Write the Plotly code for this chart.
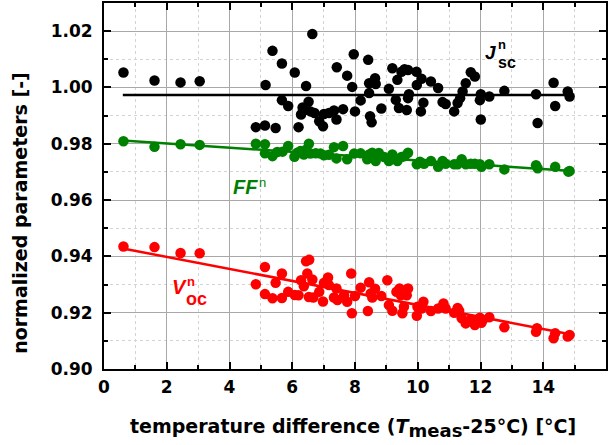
import plotly.graph_objects as go

# ---- data ----
jsc_x = [0.62, 1.61, 2.44, 3.05, 4.84, 5.13, 5.47, 5.15, 5.37, 5.67, 5.67, 5.87, 6.08, 6.20, 6.44, 6.64,
         6.52, 6.33, 6.28, 6.45, 6.58, 6.71, 6.86, 6.98, 7.01, 7.17, 7.33, 7.41, 7.42, 7.62, 7.75,
         7.91, 7.96, 8.00, 8.18, 8.42, 8.45, 8.45, 8.48, 8.53, 8.64, 8.66, 8.84, 9.08, 9.19, 9.30,
         9.35, 9.40, 9.48, 9.58, 9.65, 9.69, 9.72, 9.69, 9.96, 9.97, 10.10, 10.12, 10.18, 10.42,
         10.65, 10.79, 10.89, 11.16, 11.27, 11.35, 11.43, 11.53, 11.69, 11.82, 11.98, 12.01, 12.01,
         12.28, 12.76, 13.77, 13.82, 14.33, 14.38, 14.78, 14.84]
jsc_y = [1.0053, 1.0025, 1.0018, 1.0022, 0.9859, 0.9865, 0.9856, 1.0009, 1.0130, 1.0085, 0.9955, 0.9934,
         1.0053, 0.9859, 1.0005, 1.0190, 0.9949, 0.9929, 0.9904, 0.9921, 0.9915, 0.9909, 0.9880,
         0.9862, 0.9906, 0.9909, 0.9918, 0.9886, 1.0072, 0.9923, 1.0042,
         1.0002, 1.0118, 0.9915, 0.9954, 1.0098, 1.0015, 0.9980, 0.9898, 0.9876, 1.0033, 1.0012,
         0.9925, 0.9995, 1.0068, 0.9956, 1.0027, 0.9927, 1.0056, 1.0065, 0.9920, 1.0062, 0.9976,
         0.9962, 1.0056, 1.0009, 0.9915, 1.0031, 0.9946, 1.0021, 0.9998, 0.9948, 0.9941, 0.9915,
         0.9945, 0.9962, 0.9986, 1.0015, 1.0054, 1.0039, 0.9955, 0.9976, 0.9886, 0.9968, 0.9988,
         0.9976, 0.9874, 1.0017, 0.9934, 0.9986, 0.9968]

ff_x = [0.62, 1.61, 2.44, 3.05, 4.84, 5.13, 5.13, 5.37, 5.52, 5.69, 5.87, 6.07, 6.16, 6.26, 6.37, 6.45,
        6.53, 6.58, 6.75, 6.90, 7.01, 7.17, 7.33, 7.41, 7.62, 7.75,
        7.97, 8.18, 8.39, 8.45, 8.55, 8.66, 8.76, 8.93, 9.08, 9.19, 9.35, 9.48, 9.58, 9.69, 9.97,
        10.07, 10.20, 10.42, 10.65, 10.79, 10.89, 11.16, 11.27, 11.40, 11.53, 11.69, 11.82, 11.98,
        12.03, 12.28, 12.76, 13.77, 13.82, 14.38, 14.80, 14.84]
ff_y = [0.9809, 0.9789, 0.9798, 0.9796, 0.9800, 0.9798, 0.9766, 0.9756, 0.9771, 0.9772, 0.9792, 0.9754,
        0.9768, 0.9774, 0.9762, 0.9780, 0.9800, 0.9765, 0.9766, 0.9765, 0.9759, 0.9761, 0.9788,
        0.9748, 0.9792, 0.9745,
        0.9765, 0.9766, 0.9745, 0.9762, 0.9768, 0.9739, 0.9767, 0.9753, 0.9739, 0.9762, 0.9739,
        0.9753, 0.9756, 0.9768, 0.9727, 0.9736, 0.9729, 0.9739, 0.9718, 0.9739, 0.9729, 0.9727,
        0.9727, 0.9745, 0.9727, 0.9729, 0.9729, 0.9727, 0.9718, 0.9727, 0.9709, 0.9724, 0.9713,
        0.9718, 0.9701, 0.9703]

voc_x = [0.62, 1.61, 2.44, 3.05, 4.84, 5.13, 5.13, 5.37, 5.47, 5.67, 5.67, 5.87, 6.08, 6.20, 6.28, 6.37,
         6.44, 6.54, 6.48, 6.53, 6.64, 6.67, 6.86, 6.98, 7.01, 7.14, 7.17, 7.41, 7.44, 7.33, 7.65,
         7.75, 7.88, 7.90,
         8.00, 8.18, 8.41, 8.45, 8.50, 8.55, 8.64, 8.84, 9.03, 9.08, 9.19, 9.32, 9.42, 9.46, 9.51,
         9.62, 9.69, 9.65, 9.56, 9.97, 9.99, 10.18, 10.12, 10.42, 10.65, 10.82, 10.89, 11.16, 11.27,
         11.32, 11.40, 11.53, 11.69, 11.82, 11.98, 12.03, 12.07, 12.28, 12.76, 13.80, 13.77, 14.33,
         14.38, 14.78, 14.84]
voc_y = [0.9435, 0.9433, 0.9412, 0.9411, 0.9301, 0.9362, 0.9266, 0.9251, 0.9306, 0.9339, 0.9252, 0.9274,
         0.9263, 0.9262, 0.9315, 0.9294, 0.9383, 0.9388, 0.9339, 0.9256, 0.9318, 0.9254, 0.9274,
         0.9240, 0.9306, 0.9325, 0.9298, 0.9286, 0.9245, 0.9254, 0.9262, 0.9239, 0.9339, 0.9198,
         0.9259, 0.9289, 0.9206, 0.9308, 0.9268, 0.9254, 0.9285, 0.9259, 0.9315, 0.9227, 0.9207,
         0.9274, 0.9286, 0.9262, 0.9198, 0.9280, 0.9286, 0.9262, 0.9221, 0.9189, 0.9221, 0.9239,
         0.9215, 0.9206, 0.9215, 0.9233, 0.9215, 0.9200, 0.9217, 0.9207, 0.9180, 0.9162, 0.9176,
         0.9156, 0.9182, 0.9164, 0.9174, 0.9184, 0.9148, 0.9145, 0.9132, 0.9109, 0.9127, 0.9115,
         0.9121]

# linear fit lines (endpoints)
fit_x = [0.60, 14.94]
jsc_fit = [0.9973, 0.9973]
ff_fit = [0.9812, 0.9703]
voc_fit = [0.9428, 0.9122]

x_ticks = [0, 2, 4, 6, 8, 10, 12, 14, 16]
y_ticks = [0.90, 0.92, 0.94, 0.96, 0.98, 1.00, 1.02]

BLACK = "#000000"
GREEN = "#008000"
RED = "#ff0000"
FONT = "Liberation Sans, Arial, sans-serif"
WIDE = "DejaVu Sans, Liberation Sans, sans-serif"

fig = go.Figure()
for xs, ys, fy, c in [(jsc_x, jsc_y, jsc_fit, BLACK), (ff_x, ff_y, ff_fit, GREEN), (voc_x, voc_y, voc_fit, RED)]:
    fig.add_trace(go.Scatter(x=xs, y=ys, mode="markers",
                             marker=dict(size=10.5, color=c, line=dict(width=0)), showlegend=False))
    fig.add_trace(go.Scatter(x=fit_x, y=fy, mode="lines",
                             line=dict(color=c, width=2.5), showlegend=False))

axis_common = dict(
    showline=True, linecolor="black", linewidth=2, mirror="allticks",
    ticks="inside", ticklen=7, tickwidth=1.5, tickcolor="black",
    showgrid=True, gridcolor="#a8a8a8", gridwidth=1,
    zeroline=False,
    tickfont=dict(family=WIDE, size=17, color="black", weight="bold"),
)

fig.update_xaxes(range=[0, 16], tickvals=x_ticks, ticktext=[str(v) for v in x_ticks],
                 ticklabelstandoff=2,
                 minor=dict(dtick=1, tick0=0, ticks="inside", ticklen=4, tickcolor="black",
                            showgrid=True, gridcolor="#d4d4d4", griddash="dot", gridwidth=1),
                 **axis_common)
fig.update_yaxes(range=[0.90, 1.03], tickvals=y_ticks, ticktext=[f"{v:.2f}" for v in y_ticks],
                 ticklabelstandoff=6,
                 minor=dict(dtick=0.01, tick0=0.90, ticks="inside", ticklen=4, tickcolor="black",
                            showgrid=True, gridcolor="#d4d4d4", griddash="dot", gridwidth=1),
                 **axis_common)

annotations = [
    # J_sc^n
    dict(x=490, y=51, text="<b><i>J</i></b>", font=dict(size=19, color=BLACK, family=FONT)),
    dict(x=502, y=43, text="<b>n</b>", font=dict(size=13, color=BLACK, family=FONT)),
    dict(x=507, y=61, text="<b>sc</b>", font=dict(size=16, color=BLACK, family=FONT)),
    # FF^n
    dict(x=245, y=186, text="<b><i>FF</i></b>", font=dict(size=20, color=GREEN, family=FONT)),
    dict(x=262, y=181, text="n", font=dict(size=13, color=GREEN, family=FONT)),
    # V_oc^n
    dict(x=179, y=287, text="<b><i>V</i></b>", font=dict(size=20, color=RED, family=FONT)),
    dict(x=191, y=281, text="<b>n</b>", font=dict(size=13, color=RED, family=FONT)),
    dict(x=196, y=299, text="<b>oc</b>", font=dict(size=18, color=RED, family=FONT)),
    # axis titles
    dict(x=353, y=428,
         text="<b>temperature difference (<i>T</i><sub><span style='font-size:18px'>meas</span></sub>-25°C) [°C]</b>",
         font=dict(size=19, color="black", family=WIDE)),
    dict(x=20, y=212, text="<b>normalized parameters [-]</b>", textangle=-90,
         font=dict(size=19, color="black", family=WIDE)),
]
W, H = 616, 445
ann_objs = []
for a in annotations:
    a = dict(a)
    px, py = a.pop("x"), a.pop("y")
    ann_objs.append(dict(xref="paper", yref="paper",
                         x=(px - 104) / (606 - 104), y=(369 - py) / (369 - 1),
                         xanchor="center", yanchor="middle", showarrow=False, **a))

fig.update_layout(
    width=W, height=H,
    margin=dict(l=104, r=10, t=1, b=76, pad=0),
    paper_bgcolor="white", plot_bgcolor="white",
    annotations=ann_objs,
    font=dict(family=FONT, color="black"),
)

fig.write_html("out.html")
